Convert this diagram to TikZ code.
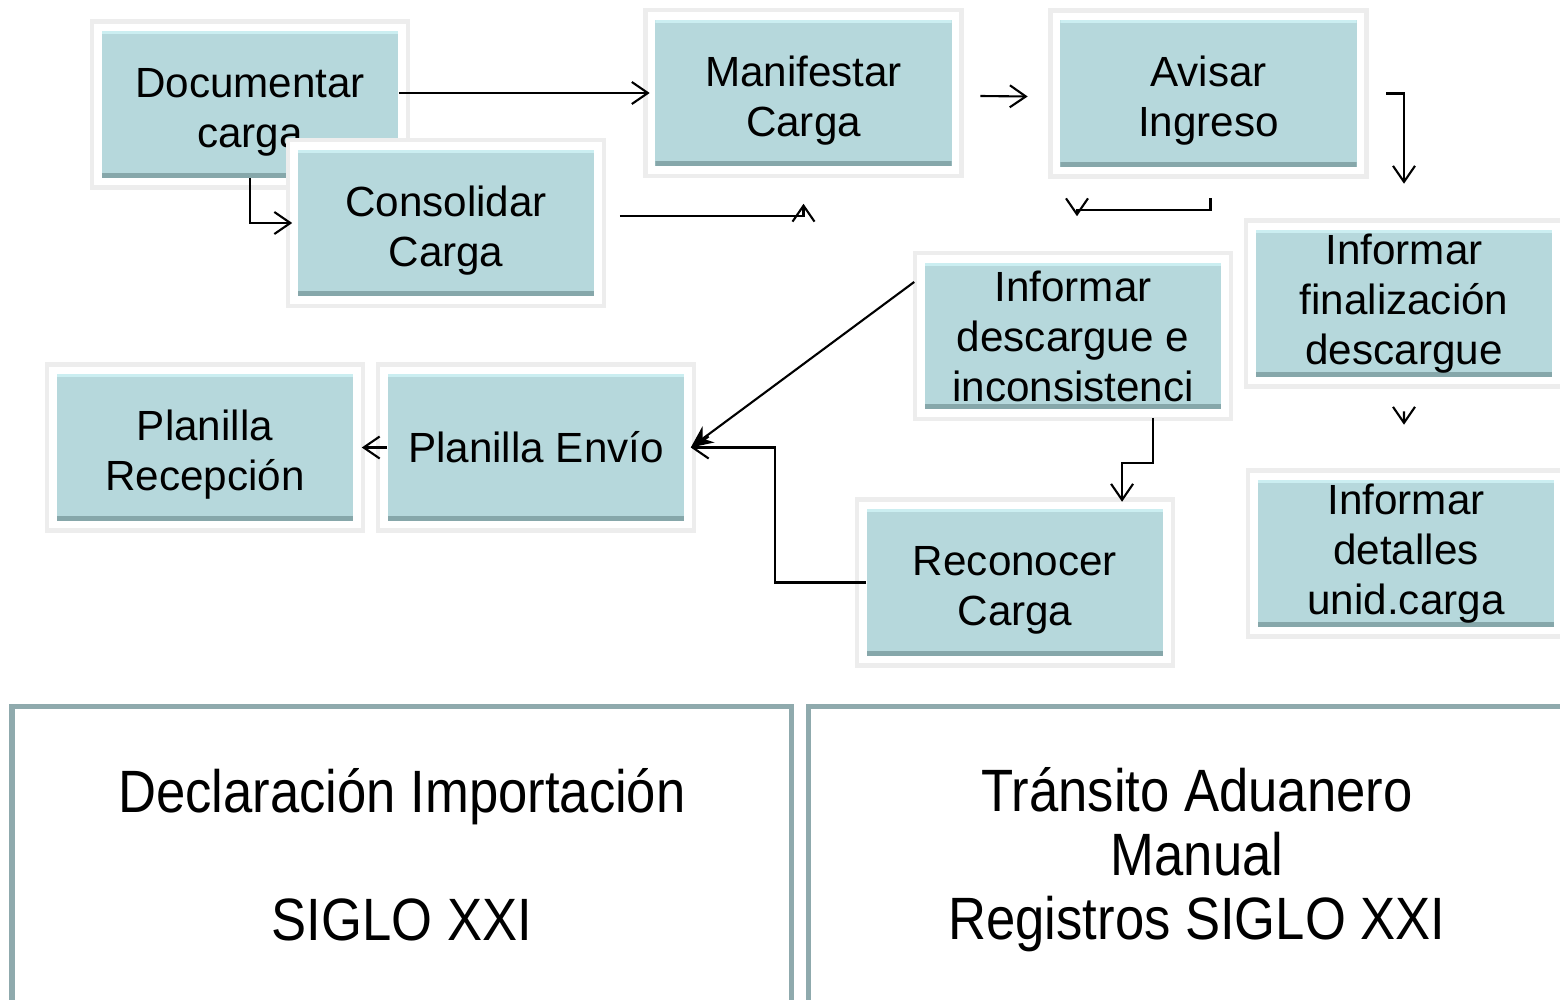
\documentclass[tikz,border=0pt]{standalone}
\usepackage{fontspec}
\setmainfont{Liberation Sans}
\newfontfamily\panelfont[FakeStretch=0.88]{Liberation Sans}
\usetikzlibrary{arrows.meta}

\definecolor{boxfill}{HTML}{B6D8DC}
\definecolor{boxtop}{HTML}{CBEEF1}
\definecolor{boxbot}{HTML}{86A7AA}
\definecolor{panelgray}{HTML}{8FAAAD}

\tikzset{
	proc/.style={rectangle, fill=boxfill, minimum width=2.96cm, minimum height=1.46cm,
		inner sep=0pt, align=center, font=\fontsize{12}{14.2}\selectfont,
		preaction={draw=black!7, line width=0.24cm},
		preaction={draw=white, line width=0.15cm},
		path picture={
			\fill[boxtop] (path picture bounding box.north west) rectangle ([yshift=-0.03cm]path picture bounding box.north east);
			\fill[boxbot] (path picture bounding box.south west) rectangle ([yshift=0.05cm]path picture bounding box.south east);
		}},
	twoline/.style={text height=27pt},
	arr/.style={draw=black, line width=0.6pt, -{Straight Barb[length=1.6mm,width=2.2mm]}},
	panel/.style={draw=panelgray, line width=0.05cm},
	paneltxt/.style={align=center, font=\panelfont\fontsize{17}{18.2}\selectfont}
}

\begin{document}
\begin{tikzpicture}[x=0.01cm,y=-0.01cm]
	\useasboundingbox (0,0) rectangle (1560,1000);

	\node[proc,twoline] (doc) at (250,104.5) {Documentar\\carga};
	\node[proc,twoline] (cons) at (446,223) {Consolidar\\Carga};
	\node[proc,twoline] (manif) at (803.5,93) {Manifestar\\Carga};
	\node[proc,twoline] (aviso) at (1208.5,93.5) {Avisar\\Ingreso};
	\node[proc] (final) at (1404,303.5) {Informar\\finalización\\descargue};
	\node[proc] (desc) at (1073,336) {Informar\\descargue e\\inconsistenci};
	\node[proc,twoline] (recon) at (1015,582.5) {Reconocer\\Carga};
	\node[proc] (envio) at (536,447.5) {Planilla Envío};
	\node[proc,twoline] (recep) at (205,447.5) {Planilla\\Recepción};
	\node[proc] (detal) at (1406,553.5) {Informar\\detalles\\unid.carga};

	\draw[arr] (doc.east |- manif.west) -- ([xshift=-0.05cm]manif.west);
	\draw[arr] (doc.south) |- ([xshift=-0.05cm]cons.west);
	\draw[arr] ([xshift=0.25cm,yshift=0.07cm]cons.east) -| ([yshift=-0.37cm]manif.south);
	\draw[arr] ([xshift=0.28cm,yshift=-0.03cm]manif.east) -- ([xshift=-0.32cm,yshift=-0.03cm]aviso.west);
	\draw[arr] ([xshift=0.29cm]aviso.east) -| ([yshift=0.46cm]final.north);
	\draw[arr] ([xshift=0.02cm,yshift=-0.31cm]aviso.south) -- ++(0,12) -| ([xshift=0.04cm,yshift=0.46cm]desc.north);
	\draw[arr] ([yshift=-0.34cm]final.south) -- ([xshift=-0.02cm,yshift=0.55cm]detal.north);
	\draw[arr] ([xshift=0.8cm,yshift=-0.08cm]desc.south) -- ++(0,45) -| ([xshift=1.07cm,yshift=0.07cm]recon.north);
	\draw[arr] (recon.west) -- ++(-91,0) |- ([xshift=0.06cm]envio.east);
	\draw[line width=0.6pt, -{Stealth[length=2.2mm,width=2mm]}] ([xshift=-0.1cm,yshift=0.54cm]desc.west) -- ([xshift=0.06cm]envio.east);
	\draw[arr] (envio.west) -- ([xshift=0.08cm]recep.east);

	% bottom panels
	\draw[panel] (12,1010) |- (791,706) -- (791,1010);
	\draw[panel] (808,1010) |- (1570,706);
	\node[paneltxt] (decl) at (402,855) {Declaración Importación\\[0.64cm]SIGLO XXI};
	\node[paneltxt] (trans) at (1197,860) {Tránsito Aduanero\\Manual\\Registros SIGLO XXI};
\end{tikzpicture}
\end{document}
